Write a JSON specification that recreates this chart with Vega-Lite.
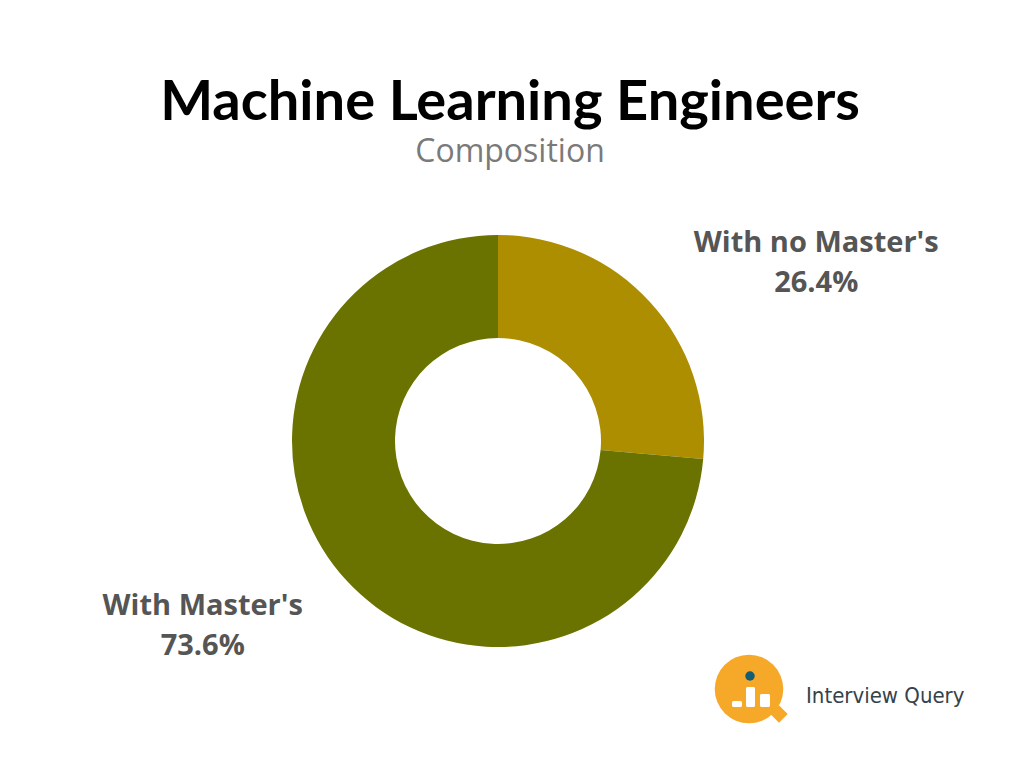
{
  "$schema": "https://vega.github.io/schema/vega-lite/v6.json",
  "width": 996,
  "height": 654,
  "autosize": {"type": "none"},
  "padding": {"left": 0, "top": 114, "right": 28, "bottom": 0},
  "background": "white",
  "title": {
    "text": "Machine Learning Engineers",
    "subtitle": "Composition",
    "anchor": "middle",
    "font": "Lato",
    "fontSize": 56,
    "fontWeight": "bold",
    "color": "#000000",
    "subtitleFont": "Open Sans",
    "subtitleFontSize": 32,
    "subtitleColor": "#7a7a7a",
    "subtitlePadding": 5,
    "offset": -55,
    "dx": 12
  },
  "config": {"view": {"stroke": null}},
  "layer": [
    {
      "data": {
        "values": [
          {"category": "With no Master's", "pct": 26.4},
          {"category": "With Master's", "pct": 73.6}
        ]
      },
      "transform": [
        {"calculate": "datum.category + '\\n' + format(datum.pct, '.1f') + '%'", "as": "label"}
      ],
      "encoding": {
        "theta": {"field": "pct", "type": "quantitative", "stack": true},
        "order": {"field": "pct", "type": "quantitative", "sort": "ascending"}
      },
      "layer": [
        {
          "mark": {"type": "arc", "outerRadius": 206, "innerRadius": 103},
          "encoding": {
            "color": {
              "field": "category",
              "type": "nominal",
              "scale": {"domain": ["With no Master's", "With Master's"], "range": ["#AD8E00", "#6B7300"]},
              "legend": null
            }
          }
        },
        {
          "mark": {"type": "text", "radius": 300, "dx": 97, "dy": 5, "font": "Open Sans", "fontWeight": "bold", "fontSize": 29, "fill": "#555555", "lineBreak": "\n", "lineHeight": 40, "align": "center", "baseline": "middle"},
          "encoding": {
            "text": {"condition": {"test": "datum.category === \"With no Master's\"", "field": "label"}, "value": ""}
          }
        },
        {
          "mark": {"type": "text", "radius": 300, "dx": -74, "dy": -38, "font": "Open Sans", "fontWeight": "bold", "fontSize": 29, "fill": "#555555", "lineBreak": "\n", "lineHeight": 40, "align": "center", "baseline": "middle"},
          "encoding": {
            "text": {"condition": {"test": "datum.category === \"With Master's\"", "field": "label"}, "value": ""}
          }
        }
      ]
    },
    {
      "data": {"values": [{}]},
      "mark": {"type": "point", "shape": "circle", "filled": true, "opacity": 1, "size": 4700, "color": "#F6A829", "x": 749, "y": 575}
    },
    {
      "data": {"values": [{}]},
      "mark": {"type": "point", "shape": "square", "filled": true, "opacity": 1, "size": 150, "angle": 45, "color": "#F6A829", "x": 779, "y": 600}
    },
    {
      "data": {"values": [{}]},
      "mark": {"type": "rect", "color": "#FFFFFF", "cornerRadius": 1.5, "x": 732, "x2": 742, "y": 587, "y2": 593}
    },
    {
      "data": {"values": [{}]},
      "mark": {"type": "rect", "color": "#FFFFFF", "cornerRadius": 1.5, "x": 746, "x2": 755, "y": 573, "y2": 593}
    },
    {
      "data": {"values": [{}]},
      "mark": {"type": "rect", "color": "#FFFFFF", "cornerRadius": 1.5, "x": 760, "x2": 770, "y": 580, "y2": 593}
    },
    {
      "data": {"values": [{}]},
      "mark": {"type": "point", "shape": "circle", "filled": true, "opacity": 1, "size": 90, "color": "#135E73", "x": 750, "y": 562}
    },
    {
      "data": {"values": [{}]},
      "mark": {"type": "text", "text": "Interview Query", "font": "Liberation Sans Narrow, DejaVu Sans Condensed, Roboto", "fontSize": 22, "fill": "#35424a", "align": "left", "baseline": "alphabetic", "x": 806, "y": 589}
    }
  ]
}
